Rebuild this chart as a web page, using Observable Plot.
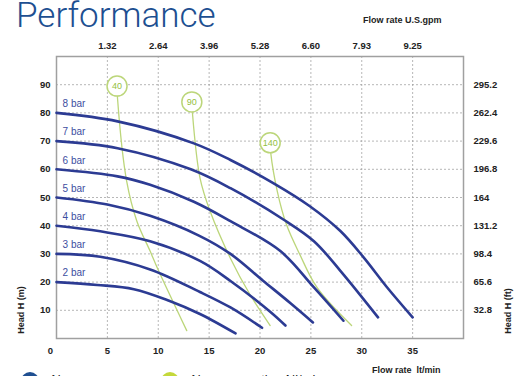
<!DOCTYPE html>
<html><head><meta charset="utf-8">
<script src="https://cdn.jsdelivr.net/npm/d3@7"></script>
<script src="https://cdn.jsdelivr.net/npm/@observablehq/plot@0.6"></script>
<style>
body{margin:0;background:#fff;overflow:hidden}
#wrap{position:relative;width:522px;height:376px;overflow:hidden;font-family:"Liberation Sans",Arial,sans-serif;color:#222}
#title{position:absolute;left:16px;top:-2px;font-family:Roboto,sans-serif;font-weight:300;font-size:35px;line-height:35px;color:#1d4f91;white-space:nowrap}
.lab{position:absolute;font-weight:bold;font-size:9px;white-space:nowrap;line-height:10px}
#chart{position:absolute;left:0;top:0}
.leg{position:absolute;top:372px;display:flex;align-items:flex-start;font-size:13px;white-space:nowrap}
.leg span.c{display:inline-block;width:18px;height:18px;border-radius:50%;margin-right:10px}
</style></head><body><div id="wrap">
<div id="title">Performance</div>
<div class="lab" style="left:363px;top:15px">Flow rate U.S.gpm</div>
<div class="lab" style="left:372px;top:365px">Flow rate&nbsp; lt/min</div>
<div class="lab" style="left:21px;top:310px;transform:translate(-50%,-50%) rotate(-90deg)">Head H (m)</div>
<div class="lab" style="left:508px;top:311px;transform:translate(-50%,-50%) rotate(-90deg)">Head H (ft)</div>
<div id="chart"></div>
<div class="leg" style="left:21px"><span class="c" style="background:#1f4f91"></span>Air pressure</div>
<div class="leg" style="left:161px"><span class="c" style="background:#c4d83a"></span>Air consumption Nl/min</div>
</div>
<script>
const flowTicks = [5, 10, 15, 20, 25, 30, 35];
const gpmLabels = ["1.32", "2.64", "3.96", "5.28", "6.60", "7.93", "9.25"];
const headTicks = [10, 20, 30, 40, 50, 60, 70, 80, 90];
const ftLabels = ["32.8", "65.6", "98.4", "131.2", "164", "196.8", "229.6", "262.4", "295.2"];

const pressureNames = ["2 bar", "3 bar", "4 bar", "5 bar", "6 bar", "7 bar", "8 bar"];
const startHeads = [20, 30, 40, 50, 60, 70, 80];

const flow2 = [0, 4, 7.6, 11, 14.1, 17.6];
const head2 = [20, 19, 17.5, 13.5, 8.7, 1.8];
const flow3 = [0, 4.3, 9.2, 14.1, 17.1, 20.2];
const head3 = [30, 29, 24.5, 16.5, 11, 3.8];
const flow4 = [0, 4.3, 9.2, 14.1, 17.1, 21, 22.5];
const head4 = [40, 38, 34.5, 27.5, 20.4, 9.5, 4.6];
const flow5 = [0, 5, 9.2, 14, 17.1, 20.3, 23, 25.2];
const head5 = [50, 47.5, 43.5, 36.5, 30, 20.5, 12.5, 5.7];
const flow6 = [0, 6, 9.2, 13.5, 17.1, 22, 25.3, 28.2];
const head6 = [60, 57.5, 54.5, 48.5, 41.6, 31, 18.1, 6.3];
const flow7 = [0, 6, 13.2, 17.1, 22.3, 25.3, 27.9, 31.6];
const head7 = [70, 67.5, 60, 53.3, 42.2, 34.5, 24, 7.5];
const flow8 = [0, 6, 13.5, 17.1, 21.3, 24.9, 27.9, 30.2, 32.5, 35];
const head8 = [80, 77, 69.2, 63.3, 55.1, 46.9, 38.1, 28.7, 18.1, 7.5];

const consumptionLabels = ["40", "90", "140"];
const consumptionLabelFlow = [5.95, 13.3, 21];
const consumptionLabelHead = [89.5, 83.9, 69.4];
const airFlow40 = [5.95, 6.0, 6.9, 7.9, 9.2, 9.9, 12.8];
const airHead40 = [89.5, 85, 55.7, 41.6, 31, 25.1, 2.8];
const airFlow90 = [13.3, 13.35, 14.1, 15.1, 17.1, 19, 21];
const airHead90 = [83.9, 80.4, 57, 45.1, 28.4, 15.7, 4.6];
const airFlow140 = [21, 21.05, 21.7, 22.6, 23.9, 25.6, 29];
const airHead140 = [69.4, 66, 52.2, 40.4, 29.9, 18.1, 4.6];

const barFlows = [flow2, flow3, flow4, flow5, flow6, flow7, flow8];
const barHeads = [head2, head3, head4, head5, head6, head7, head8];
const barRows = barFlows.flatMap((fs, k) => fs.map((f, i) => ({x: f, y: barHeads[k][i], s: pressureNames[k]})));
const barLabelRows = pressureNames.map((n, k) => ({x: 0.6, y: startHeads[k], text: n}));

const airFlows = [airFlow40, airFlow90, airFlow140];
const airHeads = [airHead40, airHead90, airHead140];
const airRows = airFlows.flatMap((fs, k) => fs.map((f, i) => ({x: f, y: airHeads[k][i], s: consumptionLabels[k]})));
const airLabelRows = consumptionLabels.map((t, k) => ({x: consumptionLabelFlow[k], y: consumptionLabelHead[k], text: t}));

const blue = "#2c3b93";
const green = "#bcd67a";
const tickStyle = {tickSize: 0, fontSize: 9.5, fontWeight: "bold", fill: "#222", label: null};

const chart = Plot.plot({
  width: 522,
  height: 360,
  marginTop: 56,
  marginBottom: 22,
  marginLeft: 56,
  marginRight: 59,
  style: {fontFamily: "'Liberation Sans', Arial, sans-serif", background: "transparent"},
  x: {domain: [0, 40]},
  y: {domain: [0, 100]},
  marks: [
    Plot.gridX(flowTicks, {stroke: "#999", strokeOpacity: 0.7, strokeDasharray: "2,2"}),
    Plot.gridY(headTicks, {stroke: "#999", strokeOpacity: 0.7, strokeDasharray: "2,2"}),
    Plot.frame({stroke: "#a0a0a0", strokeWidth: 1.5}),
    Plot.axisX({...tickStyle, anchor: "bottom", ticks: flowTicks, tickPadding: 9}),
    Plot.axisX({...tickStyle, anchor: "bottom", ticks: [0], tickPadding: 9, dx: -6}),
    Plot.axisX({...tickStyle, anchor: "top", ticks: flowTicks, tickPadding: 8, tickFormat: (d) => gpmLabels[flowTicks.indexOf(d)]}),
    Plot.axisY({...tickStyle, anchor: "left", ticks: headTicks, tickPadding: 6}),
    Plot.axisY({...tickStyle, anchor: "right", ticks: headTicks, tickPadding: 10, textAnchor: "start", tickFormat: (d) => ftLabels[headTicks.indexOf(d)]}),
    Plot.line(airRows, {x: "x", y: "y", z: "s", stroke: green, strokeWidth: 1.3, curve: "catmull-rom"}),
    Plot.line(barRows, {x: "x", y: "y", z: "s", stroke: blue, strokeWidth: 2.6, curve: "catmull-rom"}),
    Plot.text(barLabelRows, {x: "x", y: "y", text: "text", dy: -9, textAnchor: "start", fill: "#3d4ea0", fontSize: 10}),
    Plot.dot(airLabelRows, {x: "x", y: "y", r: 10, fill: "white", stroke: green, strokeWidth: 1.5}),
    Plot.text(airLabelRows, {x: "x", y: "y", text: "text", fill: "#94c040", fontSize: 9})
  ]
});
document.getElementById("chart").appendChild(chart);
</script>
</body></html>
